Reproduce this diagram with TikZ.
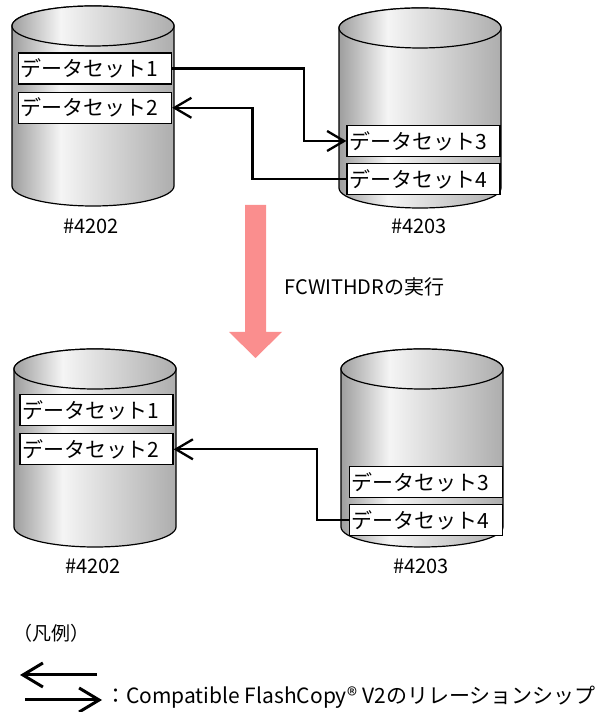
\documentclass[tikz,border=0pt]{standalone}
\usepackage{fontspec}
\usepackage{tikz}
\usetikzlibrary{arrows.meta,positioning}
\newfontfamily\jpfont{Noto Sans CJK JP}
\definecolor{fcpink}{RGB}{250,142,142}
\pgfdeclarehorizontalshading{cylgray}{100bp}{color(0bp)=(black!38); color(25bp)=(black!38); color(40bp)=(black!4); color(75bp)=(black!32); color(100bp)=(black!32)}

\begin{document}
\begin{tikzpicture}[x=1pt, y=1pt, font=\jpfont\fontsize{20pt}{24pt}\selectfont,
    dsbox/.style={draw, fill=white, line width=1.3pt, text width=149pt, align=left, minimum height=31pt, inner sep=2pt, font=\jpfont\fontsize{21pt}{24pt}\selectfont},
    conn/.style={line width=2.3pt, -{Straight Barb[length=17pt, width=20pt]}},
    legarrow/.style={line width=3pt, -{Straight Barb[length=20pt, width=24pt]}}]
        \useasboundingbox (0,0) rectangle (608,712);

        % Volumes
        \foreach \cx/\ty/\by in {93/686/526, 420/684/524, 95/343/185, 422/343/185} {
            \shadedraw[shading=cylgray, line width=1.2pt] (\cx-81,\ty) -- (\cx-81,\by) arc[start angle=180, end angle=360, x radius=81, y radius=20] -- (\cx+81,\ty) arc[start angle=0, end angle=180, x radius=81, y radius=20] -- cycle;
            \shadedraw[shading=cylgray, line width=1.2pt] (\cx,\ty) ellipse[x radius=81, y radius=20];
        }

        % Data sets before
        \node [dsbox] (tl1) at (95,643.5) {データセット1};
        \node [dsbox, below=7pt of tl1] (tl2) {データセット2};
        \node [dsbox] (tr3) at (423.5,571) {データセット3};
        \node [dsbox, below=6pt of tr3] (tr4) {データセット4};

        % Data sets after
        \node [dsbox] (bl1) at (96.5,302) {データセット1};
        \node [dsbox, below=7pt of bl1] (bl2) {データセット2};
        \node [dsbox] (br3) at (426,230) {データセット3};
        \node [dsbox, below=6pt of br3] (br4) {データセット4};

        % Volume names
        \node (tlname) at (91,486) {\#4202};
        \node (trname) at (419,486) {\#4203};
        \node (blname) at (93,146) {\#4202};
        \node (brname) at (421,146) {\#4203};

        % Relationships
        \draw [conn] (tl1.east) -- ++(132,0) |- (tr3.west);
        \draw [conn] (tr4.west) -- ++(-94,0) |- (tl2.east);
        \draw [conn] (br4.west) -- ++(-32,0) |- (bl2.east);

        % Command
        \fill [fcpink] (245,507) -- (266,507) -- (266,380) -- (282,380) -- (255.5,354) -- (229,380) -- (245,380) -- cycle;
        \node [anchor=west] (fclabel) at (281,425) {FCWITHDRの実行};

        % Legend
        \node [anchor=west, inner sep=0, font=\jpfont\fontsize{19pt}{22pt}\selectfont] (legend) at (13,79) {（凡例）};
        \coordinate (l1a) at (97,37);
        \coordinate (l1b) at (20,37);
        \coordinate (l2a) at (25,12);
        \coordinate (l2b) at (102,12);
        \draw [legarrow] (l1a) -- (l1b);
        \draw [legarrow] (l2a) -- (l2b);
        \node [anchor=west, inner sep=0, font=\jpfont\fontsize{21pt}{24pt}\selectfont] (legtext) at (105,15) {：Compatible FlashCopy® V2のリレーションシップ};
    \end{tikzpicture}
\end{document}
